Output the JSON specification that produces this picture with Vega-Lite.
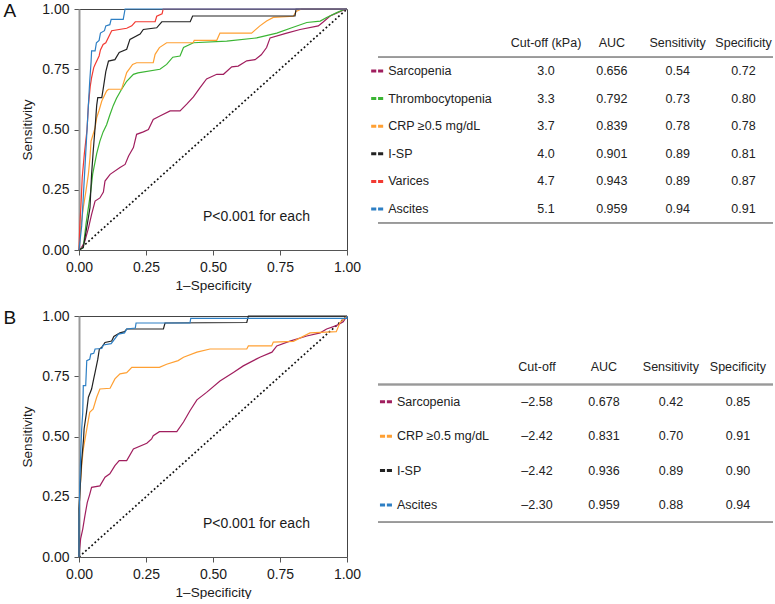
{
  "$schema": "https://vega.github.io/schema/vega-lite/v6.json",
  "padding": {"left": 2, "top": 1, "right": 0, "bottom": 0},
  "background": "white",
  "config": {
    "font": "Liberation Sans",
    "view": {"stroke": "#444", "strokeWidth": 1},
    "axis": {"labelFont": "Liberation Sans", "titleFont": "Liberation Sans", "labelFontSize": 14, "titleFontSize": 13.5, "titleFontWeight": "normal", "labelColor": "#1a1a1a", "titleColor": "#1a1a1a", "tickColor": "#555", "tickSize": 5, "grid": false}
  },
  "datasets": {
    "rocA": [
      {"series":"Sarcopenia","fpr":0,"tpr":0},{"series":"Sarcopenia","fpr":0.01,"tpr":0.01},{"series":"Sarcopenia","fpr":0.022,"tpr":0.037},{"series":"Sarcopenia","fpr":0.035,"tpr":0.09},{"series":"Sarcopenia","fpr":0.047,"tpr":0.148},{"series":"Sarcopenia","fpr":0.06,"tpr":0.203},{"series":"Sarcopenia","fpr":0.078,"tpr":0.216},{"series":"Sarcopenia","fpr":0.091,"tpr":0.24},{"series":"Sarcopenia","fpr":0.097,"tpr":0.286},{"series":"Sarcopenia","fpr":0.116,"tpr":0.314},{"series":"Sarcopenia","fpr":0.153,"tpr":0.342},{"series":"Sarcopenia","fpr":0.172,"tpr":0.355},{"series":"Sarcopenia","fpr":0.185,"tpr":0.39},{"series":"Sarcopenia","fpr":0.203,"tpr":0.425},{"series":"Sarcopenia","fpr":0.215,"tpr":0.48},{"series":"Sarcopenia","fpr":0.24,"tpr":0.49},{"series":"Sarcopenia","fpr":0.259,"tpr":0.5},{"series":"Sarcopenia","fpr":0.277,"tpr":0.542},{"series":"Sarcopenia","fpr":0.3,"tpr":0.555},{"series":"Sarcopenia","fpr":0.34,"tpr":0.577},{"series":"Sarcopenia","fpr":0.377,"tpr":0.577},{"series":"Sarcopenia","fpr":0.402,"tpr":0.605},{"series":"Sarcopenia","fpr":0.427,"tpr":0.635},{"series":"Sarcopenia","fpr":0.451,"tpr":0.673},{"series":"Sarcopenia","fpr":0.476,"tpr":0.71},{"series":"Sarcopenia","fpr":0.514,"tpr":0.729},{"series":"Sarcopenia","fpr":0.539,"tpr":0.729},{"series":"Sarcopenia","fpr":0.57,"tpr":0.76},{"series":"Sarcopenia","fpr":0.594,"tpr":0.763},{"series":"Sarcopenia","fpr":0.626,"tpr":0.785},{"series":"Sarcopenia","fpr":0.657,"tpr":0.79},{"series":"Sarcopenia","fpr":0.68,"tpr":0.81},{"series":"Sarcopenia","fpr":0.7,"tpr":0.84},{"series":"Sarcopenia","fpr":0.713,"tpr":0.88},{"series":"Sarcopenia","fpr":0.775,"tpr":0.9},{"series":"Sarcopenia","fpr":0.825,"tpr":0.915},{"series":"Sarcopenia","fpr":0.893,"tpr":0.93},{"series":"Sarcopenia","fpr":0.91,"tpr":0.945},{"series":"Sarcopenia","fpr":0.937,"tpr":0.971},{"series":"Sarcopenia","fpr":0.965,"tpr":0.985},{"series":"Sarcopenia","fpr":0.986,"tpr":0.995},{"series":"Sarcopenia","fpr":1,"tpr":1},
      {"series":"Thrombocytopenia","fpr":0,"tpr":0},{"series":"Thrombocytopenia","fpr":0.016,"tpr":0.01},{"series":"Thrombocytopenia","fpr":0.026,"tpr":0.107},{"series":"Thrombocytopenia","fpr":0.035,"tpr":0.176},{"series":"Thrombocytopenia","fpr":0.044,"tpr":0.245},{"series":"Thrombocytopenia","fpr":0.051,"tpr":0.315},{"series":"Thrombocytopenia","fpr":0.066,"tpr":0.4},{"series":"Thrombocytopenia","fpr":0.078,"tpr":0.452},{"series":"Thrombocytopenia","fpr":0.09,"tpr":0.49},{"series":"Thrombocytopenia","fpr":0.103,"tpr":0.52},{"series":"Thrombocytopenia","fpr":0.115,"tpr":0.56},{"series":"Thrombocytopenia","fpr":0.128,"tpr":0.6},{"series":"Thrombocytopenia","fpr":0.14,"tpr":0.63},{"series":"Thrombocytopenia","fpr":0.159,"tpr":0.667},{"series":"Thrombocytopenia","fpr":0.178,"tpr":0.7},{"series":"Thrombocytopenia","fpr":0.203,"tpr":0.729},{"series":"Thrombocytopenia","fpr":0.22,"tpr":0.735},{"series":"Thrombocytopenia","fpr":0.302,"tpr":0.75},{"series":"Thrombocytopenia","fpr":0.327,"tpr":0.77},{"series":"Thrombocytopenia","fpr":0.35,"tpr":0.8},{"series":"Thrombocytopenia","fpr":0.377,"tpr":0.805},{"series":"Thrombocytopenia","fpr":0.39,"tpr":0.84},{"series":"Thrombocytopenia","fpr":0.427,"tpr":0.86},{"series":"Thrombocytopenia","fpr":0.551,"tpr":0.867},{"series":"Thrombocytopenia","fpr":0.663,"tpr":0.88},{"series":"Thrombocytopenia","fpr":0.738,"tpr":0.9},{"series":"Thrombocytopenia","fpr":0.794,"tpr":0.922},{"series":"Thrombocytopenia","fpr":0.85,"tpr":0.944},{"series":"Thrombocytopenia","fpr":0.9,"tpr":0.95},{"series":"Thrombocytopenia","fpr":0.924,"tpr":0.965},{"series":"Thrombocytopenia","fpr":0.962,"tpr":0.985},{"series":"Thrombocytopenia","fpr":0.993,"tpr":1},{"series":"Thrombocytopenia","fpr":1,"tpr":1},
      {"series":"CRP ≥0.5 mg/dL","fpr":0,"tpr":0},{"series":"CRP ≥0.5 mg/dL","fpr":0.005,"tpr":0.08},{"series":"CRP ≥0.5 mg/dL","fpr":0.016,"tpr":0.176},{"series":"CRP ≥0.5 mg/dL","fpr":0.026,"tpr":0.245},{"series":"CRP ≥0.5 mg/dL","fpr":0.035,"tpr":0.315},{"series":"CRP ≥0.5 mg/dL","fpr":0.041,"tpr":0.383},{"series":"CRP ≥0.5 mg/dL","fpr":0.045,"tpr":0.452},{"series":"CRP ≥0.5 mg/dL","fpr":0.06,"tpr":0.507},{"series":"CRP ≥0.5 mg/dL","fpr":0.066,"tpr":0.549},{"series":"CRP ≥0.5 mg/dL","fpr":0.075,"tpr":0.58},{"series":"CRP ≥0.5 mg/dL","fpr":0.085,"tpr":0.618},{"series":"CRP ≥0.5 mg/dL","fpr":0.103,"tpr":0.66},{"series":"CRP ≥0.5 mg/dL","fpr":0.11,"tpr":0.667},{"series":"CRP ≥0.5 mg/dL","fpr":0.159,"tpr":0.667},{"series":"CRP ≥0.5 mg/dL","fpr":0.178,"tpr":0.736},{"series":"CRP ≥0.5 mg/dL","fpr":0.2,"tpr":0.77},{"series":"CRP ≥0.5 mg/dL","fpr":0.215,"tpr":0.777},{"series":"CRP ≥0.5 mg/dL","fpr":0.277,"tpr":0.777},{"series":"CRP ≥0.5 mg/dL","fpr":0.284,"tpr":0.812},{"series":"CRP ≥0.5 mg/dL","fpr":0.3,"tpr":0.84},{"series":"CRP ≥0.5 mg/dL","fpr":0.327,"tpr":0.86},{"series":"CRP ≥0.5 mg/dL","fpr":0.426,"tpr":0.86},{"series":"CRP ≥0.5 mg/dL","fpr":0.43,"tpr":0.87},{"series":"CRP ≥0.5 mg/dL","fpr":0.514,"tpr":0.87},{"series":"CRP ≥0.5 mg/dL","fpr":0.526,"tpr":0.9},{"series":"CRP ≥0.5 mg/dL","fpr":0.644,"tpr":0.9},{"series":"CRP ≥0.5 mg/dL","fpr":0.675,"tpr":0.93},{"series":"CRP ≥0.5 mg/dL","fpr":0.7,"tpr":0.95},{"series":"CRP ≥0.5 mg/dL","fpr":0.725,"tpr":0.965},{"series":"CRP ≥0.5 mg/dL","fpr":0.8,"tpr":0.97},{"series":"CRP ≥0.5 mg/dL","fpr":0.81,"tpr":0.99},{"series":"CRP ≥0.5 mg/dL","fpr":0.83,"tpr":1},{"series":"CRP ≥0.5 mg/dL","fpr":1,"tpr":1},
      {"series":"I-SP","fpr":0,"tpr":0},{"series":"I-SP","fpr":0.016,"tpr":0.01},{"series":"I-SP","fpr":0.031,"tpr":0.107},{"series":"I-SP","fpr":0.041,"tpr":0.176},{"series":"I-SP","fpr":0.047,"tpr":0.315},{"series":"I-SP","fpr":0.053,"tpr":0.41},{"series":"I-SP","fpr":0.06,"tpr":0.507},{"series":"I-SP","fpr":0.066,"tpr":0.6},{"series":"I-SP","fpr":0.07,"tpr":0.632},{"series":"I-SP","fpr":0.085,"tpr":0.632},{"series":"I-SP","fpr":0.091,"tpr":0.674},{"series":"I-SP","fpr":0.1,"tpr":0.74},{"series":"I-SP","fpr":0.11,"tpr":0.784},{"series":"I-SP","fpr":0.134,"tpr":0.79},{"series":"I-SP","fpr":0.15,"tpr":0.82},{"series":"I-SP","fpr":0.178,"tpr":0.833},{"series":"I-SP","fpr":0.19,"tpr":0.874},{"series":"I-SP","fpr":0.228,"tpr":0.896},{"series":"I-SP","fpr":0.24,"tpr":0.915},{"series":"I-SP","fpr":0.29,"tpr":0.922},{"series":"I-SP","fpr":0.309,"tpr":0.947},{"series":"I-SP","fpr":0.415,"tpr":0.947},{"series":"I-SP","fpr":0.424,"tpr":0.971},{"series":"I-SP","fpr":0.806,"tpr":0.971},{"series":"I-SP","fpr":0.81,"tpr":1},{"series":"I-SP","fpr":1,"tpr":1},
      {"series":"Varices","fpr":0,"tpr":0},{"series":"Varices","fpr":0.003,"tpr":0.1},{"series":"Varices","fpr":0.008,"tpr":0.2},{"series":"Varices","fpr":0.012,"tpr":0.3},{"series":"Varices","fpr":0.02,"tpr":0.4},{"series":"Varices","fpr":0.03,"tpr":0.5},{"series":"Varices","fpr":0.035,"tpr":0.6},{"series":"Varices","fpr":0.042,"tpr":0.68},{"series":"Varices","fpr":0.047,"tpr":0.715},{"series":"Varices","fpr":0.055,"tpr":0.757},{"series":"Varices","fpr":0.06,"tpr":0.77},{"series":"Varices","fpr":0.075,"tpr":0.805},{"series":"Varices","fpr":0.08,"tpr":0.83},{"series":"Varices","fpr":0.09,"tpr":0.853},{"series":"Varices","fpr":0.1,"tpr":0.86},{"series":"Varices","fpr":0.116,"tpr":0.896},{"series":"Varices","fpr":0.122,"tpr":0.91},{"series":"Varices","fpr":0.178,"tpr":0.92},{"series":"Varices","fpr":0.197,"tpr":0.93},{"series":"Varices","fpr":0.21,"tpr":0.947},{"series":"Varices","fpr":0.284,"tpr":0.947},{"series":"Varices","fpr":0.29,"tpr":0.97},{"series":"Varices","fpr":0.31,"tpr":0.98},{"series":"Varices","fpr":0.314,"tpr":1},{"series":"Varices","fpr":1,"tpr":1},
      {"series":"Ascites","fpr":0,"tpr":0},{"series":"Ascites","fpr":0.005,"tpr":0.05},{"series":"Ascites","fpr":0.01,"tpr":0.1},{"series":"Ascites","fpr":0.015,"tpr":0.2},{"series":"Ascites","fpr":0.02,"tpr":0.3},{"series":"Ascites","fpr":0.025,"tpr":0.4},{"series":"Ascites","fpr":0.03,"tpr":0.5},{"series":"Ascites","fpr":0.035,"tpr":0.6},{"series":"Ascites","fpr":0.04,"tpr":0.7},{"series":"Ascites","fpr":0.045,"tpr":0.78},{"series":"Ascites","fpr":0.047,"tpr":0.826},{"series":"Ascites","fpr":0.06,"tpr":0.826},{"series":"Ascites","fpr":0.065,"tpr":0.86},{"series":"Ascites","fpr":0.075,"tpr":0.87},{"series":"Ascites","fpr":0.08,"tpr":0.9},{"series":"Ascites","fpr":0.095,"tpr":0.91},{"series":"Ascites","fpr":0.1,"tpr":0.93},{"series":"Ascites","fpr":0.115,"tpr":0.935},{"series":"Ascites","fpr":0.12,"tpr":0.957},{"series":"Ascites","fpr":0.165,"tpr":0.957},{"series":"Ascites","fpr":0.172,"tpr":1},{"series":"Ascites","fpr":1,"tpr":1}
    ],
    "rocB": [
      {"series":"Sarcopenia","fpr":0,"tpr":0},{"series":"Sarcopenia","fpr":0.002,"tpr":0.03},{"series":"Sarcopenia","fpr":0.006,"tpr":0.075},{"series":"Sarcopenia","fpr":0.014,"tpr":0.116},{"series":"Sarcopenia","fpr":0.022,"tpr":0.171},{"series":"Sarcopenia","fpr":0.031,"tpr":0.227},{"series":"Sarcopenia","fpr":0.04,"tpr":0.26},{"series":"Sarcopenia","fpr":0.047,"tpr":0.289},{"series":"Sarcopenia","fpr":0.078,"tpr":0.295},{"series":"Sarcopenia","fpr":0.097,"tpr":0.331},{"series":"Sarcopenia","fpr":0.115,"tpr":0.345},{"series":"Sarcopenia","fpr":0.134,"tpr":0.379},{"series":"Sarcopenia","fpr":0.15,"tpr":0.4},{"series":"Sarcopenia","fpr":0.178,"tpr":0.4},{"series":"Sarcopenia","fpr":0.203,"tpr":0.448},{"series":"Sarcopenia","fpr":0.253,"tpr":0.472},{"series":"Sarcopenia","fpr":0.271,"tpr":0.49},{"series":"Sarcopenia","fpr":0.277,"tpr":0.503},{"series":"Sarcopenia","fpr":0.3,"tpr":0.52},{"series":"Sarcopenia","fpr":0.365,"tpr":0.52},{"series":"Sarcopenia","fpr":0.39,"tpr":0.56},{"series":"Sarcopenia","fpr":0.414,"tpr":0.607},{"series":"Sarcopenia","fpr":0.44,"tpr":0.652},{"series":"Sarcopenia","fpr":0.476,"tpr":0.683},{"series":"Sarcopenia","fpr":0.526,"tpr":0.73},{"series":"Sarcopenia","fpr":0.576,"tpr":0.766},{"series":"Sarcopenia","fpr":0.613,"tpr":0.793},{"series":"Sarcopenia","fpr":0.663,"tpr":0.822},{"series":"Sarcopenia","fpr":0.675,"tpr":0.829},{"series":"Sarcopenia","fpr":0.72,"tpr":0.85},{"series":"Sarcopenia","fpr":0.738,"tpr":0.876},{"series":"Sarcopenia","fpr":0.787,"tpr":0.896},{"series":"Sarcopenia","fpr":0.85,"tpr":0.917},{"series":"Sarcopenia","fpr":0.9,"tpr":0.93},{"series":"Sarcopenia","fpr":0.924,"tpr":0.946},{"series":"Sarcopenia","fpr":0.96,"tpr":0.96},{"series":"Sarcopenia","fpr":0.986,"tpr":0.976},{"series":"Sarcopenia","fpr":1,"tpr":1},
      {"series":"CRP ≥0.5 mg/dL","fpr":0,"tpr":0},{"series":"CRP ≥0.5 mg/dL","fpr":0,"tpr":0.2},{"series":"CRP ≥0.5 mg/dL","fpr":0.005,"tpr":0.3},{"series":"CRP ≥0.5 mg/dL","fpr":0.01,"tpr":0.38},{"series":"CRP ≥0.5 mg/dL","fpr":0.016,"tpr":0.448},{"series":"CRP ≥0.5 mg/dL","fpr":0.029,"tpr":0.531},{"series":"CRP ≥0.5 mg/dL","fpr":0.04,"tpr":0.6},{"series":"CRP ≥0.5 mg/dL","fpr":0.053,"tpr":0.614},{"series":"CRP ≥0.5 mg/dL","fpr":0.066,"tpr":0.663},{"series":"CRP ≥0.5 mg/dL","fpr":0.078,"tpr":0.697},{"series":"CRP ≥0.5 mg/dL","fpr":0.116,"tpr":0.7},{"series":"CRP ≥0.5 mg/dL","fpr":0.134,"tpr":0.739},{"series":"CRP ≥0.5 mg/dL","fpr":0.153,"tpr":0.76},{"series":"CRP ≥0.5 mg/dL","fpr":0.178,"tpr":0.765},{"series":"CRP ≥0.5 mg/dL","fpr":0.197,"tpr":0.787},{"series":"CRP ≥0.5 mg/dL","fpr":0.3,"tpr":0.787},{"series":"CRP ≥0.5 mg/dL","fpr":0.327,"tpr":0.8},{"series":"CRP ≥0.5 mg/dL","fpr":0.37,"tpr":0.815},{"series":"CRP ≥0.5 mg/dL","fpr":0.39,"tpr":0.829},{"series":"CRP ≥0.5 mg/dL","fpr":0.44,"tpr":0.85},{"series":"CRP ≥0.5 mg/dL","fpr":0.489,"tpr":0.863},{"series":"CRP ≥0.5 mg/dL","fpr":0.626,"tpr":0.863},{"series":"CRP ≥0.5 mg/dL","fpr":0.632,"tpr":0.876},{"series":"CRP ≥0.5 mg/dL","fpr":0.719,"tpr":0.876},{"series":"CRP ≥0.5 mg/dL","fpr":0.725,"tpr":0.892},{"series":"CRP ≥0.5 mg/dL","fpr":0.8,"tpr":0.895},{"series":"CRP ≥0.5 mg/dL","fpr":0.862,"tpr":0.93},{"series":"CRP ≥0.5 mg/dL","fpr":0.96,"tpr":0.935},{"series":"CRP ≥0.5 mg/dL","fpr":0.974,"tpr":0.973},{"series":"CRP ≥0.5 mg/dL","fpr":0.99,"tpr":0.99},{"series":"CRP ≥0.5 mg/dL","fpr":1,"tpr":1},
      {"series":"I-SP","fpr":0,"tpr":0},{"series":"I-SP","fpr":0,"tpr":0.2},{"series":"I-SP","fpr":0.005,"tpr":0.3},{"series":"I-SP","fpr":0.01,"tpr":0.4},{"series":"I-SP","fpr":0.017,"tpr":0.49},{"series":"I-SP","fpr":0.019,"tpr":0.531},{"series":"I-SP","fpr":0.028,"tpr":0.6},{"series":"I-SP","fpr":0.035,"tpr":0.663},{"series":"I-SP","fpr":0.047,"tpr":0.697},{"series":"I-SP","fpr":0.055,"tpr":0.74},{"series":"I-SP","fpr":0.06,"tpr":0.766},{"series":"I-SP","fpr":0.07,"tpr":0.82},{"series":"I-SP","fpr":0.076,"tpr":0.863},{"series":"I-SP","fpr":0.085,"tpr":0.87},{"series":"I-SP","fpr":0.097,"tpr":0.89},{"series":"I-SP","fpr":0.122,"tpr":0.896},{"series":"I-SP","fpr":0.13,"tpr":0.915},{"series":"I-SP","fpr":0.153,"tpr":0.93},{"series":"I-SP","fpr":0.17,"tpr":0.935},{"series":"I-SP","fpr":0.178,"tpr":0.946},{"series":"I-SP","fpr":0.315,"tpr":0.946},{"series":"I-SP","fpr":0.321,"tpr":0.971},{"series":"I-SP","fpr":0.626,"tpr":0.973},{"series":"I-SP","fpr":0.632,"tpr":1},{"series":"I-SP","fpr":1,"tpr":1},
      {"series":"Ascites","fpr":0,"tpr":0},{"series":"Ascites","fpr":0,"tpr":0.15},{"series":"Ascites","fpr":0.003,"tpr":0.3},{"series":"Ascites","fpr":0.007,"tpr":0.45},{"series":"Ascites","fpr":0.01,"tpr":0.53},{"series":"Ascites","fpr":0.014,"tpr":0.6},{"series":"Ascites","fpr":0.016,"tpr":0.711},{"series":"Ascites","fpr":0.025,"tpr":0.711},{"series":"Ascites","fpr":0.029,"tpr":0.815},{"series":"Ascites","fpr":0.04,"tpr":0.82},{"series":"Ascites","fpr":0.044,"tpr":0.842},{"series":"Ascites","fpr":0.055,"tpr":0.845},{"series":"Ascites","fpr":0.06,"tpr":0.863},{"series":"Ascites","fpr":0.085,"tpr":0.865},{"series":"Ascites","fpr":0.091,"tpr":0.88},{"series":"Ascites","fpr":0.12,"tpr":0.885},{"series":"Ascites","fpr":0.147,"tpr":0.925},{"series":"Ascites","fpr":0.17,"tpr":0.93},{"series":"Ascites","fpr":0.178,"tpr":0.946},{"series":"Ascites","fpr":0.21,"tpr":0.95},{"series":"Ascites","fpr":0.213,"tpr":0.971},{"series":"Ascites","fpr":0.414,"tpr":0.971},{"series":"Ascites","fpr":0.417,"tpr":0.99},{"series":"Ascites","fpr":1,"tpr":0.99},{"series":"Ascites","fpr":1,"tpr":1}
    ],
    "tableA": [
      {"name":"Sarcopenia","Cut-off (kPa)":"3.0","AUC":"0.656","Sensitivity":"0.54","Specificity":"0.72"},
      {"name":"Thrombocytopenia","Cut-off (kPa)":"3.3","AUC":"0.792","Sensitivity":"0.73","Specificity":"0.80"},
      {"name":"CRP ≥0.5 mg/dL","Cut-off (kPa)":"3.7","AUC":"0.839","Sensitivity":"0.78","Specificity":"0.78"},
      {"name":"I-SP","Cut-off (kPa)":"4.0","AUC":"0.901","Sensitivity":"0.89","Specificity":"0.81"},
      {"name":"Varices","Cut-off (kPa)":"4.7","AUC":"0.943","Sensitivity":"0.89","Specificity":"0.87"},
      {"name":"Ascites","Cut-off (kPa)":"5.1","AUC":"0.959","Sensitivity":"0.94","Specificity":"0.91"}
    ],
    "tableB": [
      {"name":"Sarcopenia","Cut-off":"–2.58","AUC":"0.678","Sensitivity":"0.42","Specificity":"0.85"},
      {"name":"CRP ≥0.5 mg/dL","Cut-off":"–2.42","AUC":"0.831","Sensitivity":"0.70","Specificity":"0.91"},
      {"name":"I-SP","Cut-off":"–2.42","AUC":"0.936","Sensitivity":"0.89","Specificity":"0.90"},
      {"name":"Ascites","Cut-off":"–2.30","AUC":"0.959","Sensitivity":"0.88","Specificity":"0.94"}
    ],
    "headA": [{"h":"Cut-off (kPa)"},{"h":"AUC"},{"h":"Sensitivity"},{"h":"Specificity"}],
    "headB": [{"h":"Cut-off"},{"h":"AUC"},{"h":"Sensitivity"},{"h":"Specificity"}],
    "diag": [{"fpr":0,"tpr":0},{"fpr":1,"tpr":1}],
    "note": [{"label":"P<0.001 for each"}]
  },
  "spacing": 16,
  "vconcat": [
    {
      "bounds": "flush",
      "spacing": 31,
      "hconcat": [
        {
          "width": 268, "height": 241,
          "title": {"text": "A", "orient": "left", "anchor": "end", "angle": 0, "align": "right", "baseline": "top", "fontSize": 19, "fontWeight": "normal", "offset": -8, "font": "Liberation Sans", "color": "#111"},
          "layer": [
            {"data": {"name": "diag"}, "mark": {"type": "line", "color": "#111", "strokeDash": [1.8, 2.4], "strokeWidth": 1.7},
             "encoding": {"x": {"field": "fpr", "type": "quantitative"}, "y": {"field": "tpr", "type": "quantitative"}}},
            {"data": {"name": "rocA"}, "mark": {"type": "line", "strokeWidth": 1.2},
             "encoding": {
               "x": {"field": "fpr", "type": "quantitative", "scale": {"domain": [0, 1], "nice": false}, "axis": {"values": [0, 0.25, 0.5, 0.75, 1], "format": ".2f", "title": "1–Specificity", "labelPadding": 5, "titlePadding": 4, "domainColor": "#555", "labelFlush": false}},
               "y": {"field": "tpr", "type": "quantitative", "scale": {"domain": [0, 1], "nice": false}, "axis": {"values": [0, 0.25, 0.5, 0.75, 1], "format": ".2f", "title": "Sensitivity", "labelPadding": 5, "titlePadding": 7, "domainColor": "#999", "domainWidth": 2}},
               "color": {"field": "series", "type": "nominal", "legend": null, "scale": {"domain": ["Sarcopenia", "Thrombocytopenia", "CRP ≥0.5 mg/dL", "I-SP", "Varices", "Ascites"], "range": ["#a01e5e", "#3bb534", "#ffa033", "#222222", "#f23a32", "#2d7fc4"]}},
               "order": [{"field": "fpr", "type": "quantitative"}, {"field": "tpr", "type": "quantitative"}]
             }},
            {"data": {"name": "note"}, "mark": {"type": "text", "fontSize": 14, "font": "Liberation Sans", "color": "#1a1a1a", "align": "center", "baseline": "middle"},
             "encoding": {"x": {"datum": 0.662}, "y": {"datum": 0.137}, "text": {"field": "label"}}}
          ]
        },
        {
          "width": 395, "height": 241,
          "view": {"stroke": null},
          "layer": [
            {"data": {"name": "headA"}, "mark": {"type": "text", "fontSize": 12.5, "color": "#222", "align": "center", "baseline": "middle"},
             "encoding": {
               "x": {"field": "h", "type": "nominal", "axis": null, "scale": {"type": "point", "domain": ["Name", "Cut-off (kPa)", "AUC", "Sensitivity", "Specificity"], "padding": 1.135, "align": 0.776}},
               "y": {"datum": "hdr", "type": "nominal", "axis": null, "scale": {"type": "band", "domain": ["hdr", "Sarcopenia", "Thrombocytopenia", "CRP ≥0.5 mg/dL", "I-SP", "Varices", "Ascites"], "paddingInner": 0, "paddingOuter": 0.866, "align": 0.431}},
               "text": {"field": "h"}
             }},
            {"data": {"name": "headA"}, "mark": {"type": "rule", "color": "#999", "strokeWidth": 1.6},
             "encoding": {"y": {"datum": "Sarcopenia", "type": "nominal", "bandPosition": 0}}},
            {"data": {"name": "headA"}, "mark": {"type": "rule", "color": "#999", "strokeWidth": 1.6},
             "encoding": {"y": {"datum": "Ascites", "type": "nominal", "bandPosition": 1}}},
            {"data": {"name": "tableA"}, "transform": [{"fold": ["Cut-off (kPa)", "AUC", "Sensitivity", "Specificity"]}],
             "mark": {"type": "text", "fontSize": 12.5, "color": "#222", "align": "center", "baseline": "middle"},
             "encoding": {"x": {"field": "key", "type": "nominal"}, "y": {"field": "name", "type": "nominal"}, "text": {"field": "value"}}},
            {"data": {"name": "tableA"}, "mark": {"type": "text", "fontSize": 12.5, "color": "#222", "align": "left", "baseline": "middle", "dx": -92},
             "encoding": {"x": {"datum": "Name", "type": "nominal"}, "y": {"field": "name", "type": "nominal"}, "text": {"field": "name"}}},
            {"data": {"name": "tableA"}, "mark": {"type": "point", "filled": true, "opacity": 1, "size": 144, "strokeWidth": 0, "xOffset": -103, "shape": "M-1,-0.25H-0.15V0.25H-1Z M0.15,-0.25H1V0.25H0.15Z"},
             "encoding": {"x": {"datum": "Name", "type": "nominal"}, "y": {"field": "name", "type": "nominal"},
               "color": {"field": "name", "type": "nominal", "legend": null, "scale": {"domain": ["Sarcopenia", "Thrombocytopenia", "CRP ≥0.5 mg/dL", "I-SP", "Varices", "Ascites"], "range": ["#a01e5e", "#3bb534", "#ffa033", "#222222", "#f23a32", "#2d7fc4"]}}}}
          ]
        }
      ]
    },
    {
      "bounds": "flush",
      "spacing": 31,
      "hconcat": [
        {
          "width": 268, "height": 241,
          "title": {"text": "B", "orient": "left", "anchor": "end", "angle": 0, "align": "right", "baseline": "top", "fontSize": 19, "fontWeight": "normal", "offset": -8, "font": "Liberation Sans", "color": "#111"},
          "layer": [
            {"data": {"name": "diag"}, "mark": {"type": "line", "color": "#111", "strokeDash": [1.8, 2.4], "strokeWidth": 1.7},
             "encoding": {"x": {"field": "fpr", "type": "quantitative"}, "y": {"field": "tpr", "type": "quantitative"}}},
            {"data": {"name": "rocB"}, "mark": {"type": "line", "strokeWidth": 1.2},
             "encoding": {
               "x": {"field": "fpr", "type": "quantitative", "scale": {"domain": [0, 1], "nice": false}, "axis": {"values": [0, 0.25, 0.5, 0.75, 1], "format": ".2f", "title": "1–Specificity", "labelPadding": 5, "titlePadding": 4, "domainColor": "#555", "labelFlush": false}},
               "y": {"field": "tpr", "type": "quantitative", "scale": {"domain": [0, 1], "nice": false}, "axis": {"values": [0, 0.25, 0.5, 0.75, 1], "format": ".2f", "title": "Sensitivity", "labelPadding": 5, "titlePadding": 7, "domainColor": "#999", "domainWidth": 2}},
               "color": {"field": "series", "type": "nominal", "legend": null, "scale": {"domain": ["Sarcopenia", "Thrombocytopenia", "CRP ≥0.5 mg/dL", "I-SP", "Varices", "Ascites"], "range": ["#a01e5e", "#3bb534", "#ffa033", "#222222", "#f23a32", "#2d7fc4"]}},
               "order": [{"field": "fpr", "type": "quantitative"}, {"field": "tpr", "type": "quantitative"}]
             }},
            {"data": {"name": "note"}, "mark": {"type": "text", "fontSize": 14, "font": "Liberation Sans", "color": "#1a1a1a", "align": "center", "baseline": "middle"},
             "encoding": {"x": {"datum": 0.662}, "y": {"datum": 0.137}, "text": {"field": "label"}}}
          ]
        },
        {
          "width": 395, "height": 241,
          "view": {"stroke": null},
          "layer": [
            {"data": {"name": "headB"}, "mark": {"type": "text", "fontSize": 12.5, "color": "#222", "align": "center", "baseline": "middle"},
             "encoding": {
               "x": {"field": "h", "type": "nominal", "axis": null, "scale": {"type": "point", "domain": ["Name", "Cut-off", "AUC", "Sensitivity", "Specificity"], "padding": 0.948, "align": 0.724}},
               "y": {"datum": "hdr", "type": "nominal", "axis": null, "scale": {"type": "band", "domain": ["hdr", "Sarcopenia", "CRP ≥0.5 mg/dL", "I-SP", "Ascites"], "paddingInner": 0, "paddingOuter": 1.963, "align": 0.495}},
               "text": {"field": "h"}
             }},
            {"data": {"name": "headB"}, "mark": {"type": "rule", "color": "#999", "strokeWidth": 1.6},
             "encoding": {"y": {"datum": "Sarcopenia", "type": "nominal", "bandPosition": 0}}},
            {"data": {"name": "headB"}, "mark": {"type": "rule", "color": "#999", "strokeWidth": 1.6},
             "encoding": {"y": {"datum": "Ascites", "type": "nominal", "bandPosition": 1}}},
            {"data": {"name": "tableB"}, "transform": [{"fold": ["Cut-off", "AUC", "Sensitivity", "Specificity"]}],
             "mark": {"type": "text", "fontSize": 12.5, "color": "#222", "align": "center", "baseline": "middle"},
             "encoding": {"x": {"field": "key", "type": "nominal"}, "y": {"field": "name", "type": "nominal"}, "text": {"field": "value"}}},
            {"data": {"name": "tableB"}, "mark": {"type": "text", "fontSize": 12.5, "color": "#222", "align": "left", "baseline": "middle", "dx": -73},
             "encoding": {"x": {"datum": "Name", "type": "nominal"}, "y": {"field": "name", "type": "nominal"}, "text": {"field": "name"}}},
            {"data": {"name": "tableB"}, "mark": {"type": "point", "filled": true, "opacity": 1, "size": 144, "strokeWidth": 0, "xOffset": -84, "shape": "M-1,-0.25H-0.15V0.25H-1Z M0.15,-0.25H1V0.25H0.15Z"},
             "encoding": {"x": {"datum": "Name", "type": "nominal"}, "y": {"field": "name", "type": "nominal"},
               "color": {"field": "name", "type": "nominal", "legend": null, "scale": {"domain": ["Sarcopenia", "Thrombocytopenia", "CRP ≥0.5 mg/dL", "I-SP", "Varices", "Ascites"], "range": ["#a01e5e", "#3bb534", "#ffa033", "#222222", "#f23a32", "#2d7fc4"]}}}}
          ]
        }
      ]
    }
  ]
}
